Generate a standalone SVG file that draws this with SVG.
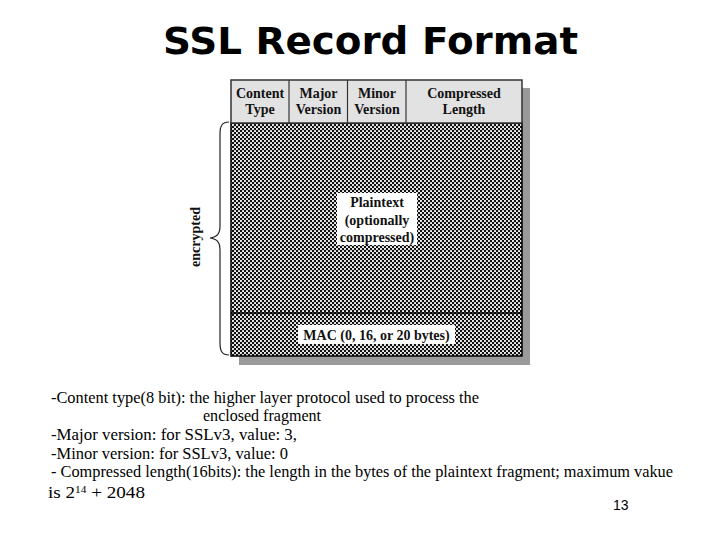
<svg xmlns="http://www.w3.org/2000/svg" width="720" height="540" viewBox="0 0 720 540">
  <style>
    .title { font-family: "Comic Sans MS", "DejaVu Sans", sans-serif; font-weight: bold; font-size: 37px; fill: #000; }
    .hdr { font-family: "Liberation Serif", "Times New Roman", serif; font-weight: bold; font-size: 14px; fill: #111; text-anchor: middle; }
    .lbl { font-family: "Liberation Serif", "Times New Roman", serif; font-weight: bold; font-size: 14px; fill: #111; text-anchor: middle; }
    .note { font-family: "Liberation Serif", "Times New Roman", serif; font-size: 17px; fill: #000; }
    .pg { font-family: "Liberation Sans", Arial, sans-serif; font-size: 14px; fill: #000; }
  </style>
  <defs>
    <pattern id="cross" width="4" height="4" patternUnits="userSpaceOnUse">
      <rect width="4" height="4" fill="#111"/>
      <circle cx="1" cy="1" r="1.05" fill="#fff"/>
      <circle cx="3" cy="3" r="1.05" fill="#fff"/>
    </pattern>
  </defs>
  <rect width="720" height="540" fill="#fff"/>

  <text class="title" x="163" y="54" textLength="415" lengthAdjust="spacingAndGlyphs">SSL Record Format</text>

  <g id="record">
    <rect x="239" y="88" width="291" height="277" fill="#9a9a9a"/>
    <rect x="231" y="123" width="291" height="233" fill="url(#cross)" stroke="#000" stroke-width="1.5"/>
    <line x1="231" y1="313" x2="522" y2="313" stroke="#000" stroke-width="1.5"/>
  </g>

  <g id="header">
    <rect x="231" y="80" width="291" height="43" fill="#e2e2e2" stroke="#333" stroke-width="1.5"/>
    <line x1="289" y1="80" x2="289" y2="123" stroke="#333" stroke-width="1.2"/>
    <line x1="347.5" y1="80" x2="347.5" y2="123" stroke="#333" stroke-width="1.2"/>
    <line x1="406" y1="80" x2="406" y2="123" stroke="#333" stroke-width="1.2"/>
    <text class="hdr" x="260" y="97.5">Content</text>
    <text class="hdr" x="260" y="114">Type</text>
    <text class="hdr" x="318.5" y="97.5">Major</text>
    <text class="hdr" x="318.5" y="114">Version</text>
    <text class="hdr" x="377" y="97.5">Minor</text>
    <text class="hdr" x="377" y="114">Version</text>
    <text class="hdr" x="464" y="97.5">Compressed</text>
    <text class="hdr" x="464" y="114">Length</text>
  </g>

  <g id="plaintext">
    <rect x="337" y="193" width="80" height="52" fill="#fff"/>
    <text class="lbl" x="377" y="207">Plaintext</text>
    <text class="lbl" x="377" y="224.5">(optionally</text>
    <text class="lbl" x="377" y="242">compressed)</text>
  </g>

  <g id="mac">
    <rect x="298" y="325" width="157" height="19" fill="#fff"/>
    <text class="lbl" x="376.5" y="339.5">MAC (0, 16, or 20 bytes)</text>
  </g>

  <g id="connectors">
    <path d="M229,122 C222,122 220,126 220,134 L220,226 C220,234 217,237 210,238 C217,239 220,242 220,250 L220,343 C220,351 222,355 229,355" fill="none" stroke="#222" stroke-width="1.2"/>
  </g>

  <g id="encrypted">
    <text class="lbl" transform="translate(200,237) rotate(-90)">encrypted</text>
  </g>

  <g id="notes">
    <text class="note" x="51" y="403" textLength="428" lengthAdjust="spacingAndGlyphs">-Content type(8 bit): the higher layer protocol used to process the</text>
    <text class="note" x="203" y="421" textLength="118" lengthAdjust="spacingAndGlyphs">enclosed fragment</text>
    <text class="note" x="51" y="440" textLength="246" lengthAdjust="spacingAndGlyphs">-Major version: for SSLv3,  value: 3,</text>
    <text class="note" x="51" y="459" textLength="237" lengthAdjust="spacingAndGlyphs">-Minor version: for SSLv3, value: 0</text>
    <text class="note" x="51" y="477" textLength="622" lengthAdjust="spacingAndGlyphs">- Compressed length(16bits): the length in the bytes of the plaintext fragment; maximum vakue</text>
    <text class="note" x="48" y="498" textLength="97" lengthAdjust="spacingAndGlyphs">is 2<tspan font-size="10" dy="-5">14</tspan><tspan dy="5"> + 2048</tspan></text>
    <text class="pg" x="613" y="510">13</text>
  </g>
</svg>
